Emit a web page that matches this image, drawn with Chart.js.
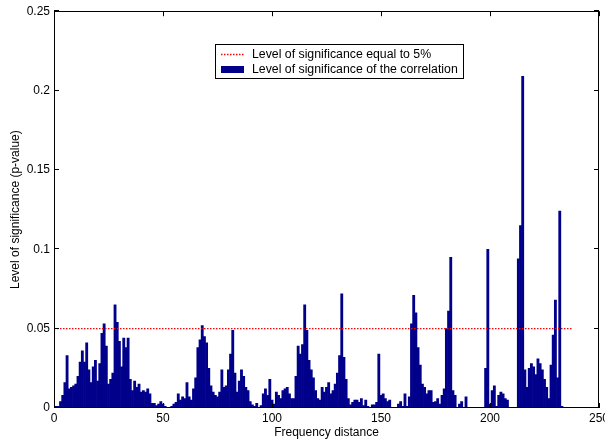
<!DOCTYPE html>
<html lang="en">
<head>
  <meta charset="UTF-8" />
  <title>Level of significance vs frequency distance</title>
  <script src="https://cdn.jsdelivr.net/npm/chart.js"></script>
  <style>
    html, body { margin: 0; padding: 0; background: #fff; }
    #wrap { width: 605px; height: 444px; position: relative; }
  </style>
</head>
<body>
<div id="wrap"><canvas id="grafico"></canvas></div>

<script>
  // p-value for frequency distance 1, 2, 3 ... (index + firstDistance)
  const firstDistance = 1;
  const pValues = [
    0.001, 0.001, 0.004, 0.008, 0.016, 0.033, 0.012, 0.013, 0.014, 0.015,
    0.020, 0.029, 0.036, 0.029, 0.041, 0.024, 0.016, 0.026, 0.030, 0.017,
    0.028, 0.047, 0.053, 0.039, 0.015, 0.018, 0.022, 0.065, 0.054, 0.042,
    0.026, 0.044, 0.038, 0.044, 0.018, 0.011, 0.017, 0.013, 0.015, 0.010,
    0.011, 0.010, 0.012, 0.009, 0.003, 0.003, 0.0015, 0.0025, 0.004, 0.0025,
    0.001, 0.0003, 0, 0.001, 0.0025, 0.0035, 0.009, 0.005, 0.007, 0.006,
    0.016, 0.007, 0.005, 0.012, 0.019, 0.038, 0.043, 0.052, 0.045, 0.041,
    0.025, 0.014, 0.010, 0.008, 0.007, 0.010, 0.024, 0.013, 0.014, 0.024,
    0.034, 0.049, 0.022, 0.010, 0.017, 0.024, 0.020, 0.013, 0.011, 0.004,
    0.002, 0.001, 0.003, 0.0005, 0.0015, 0.009, 0.012, 0.008, 0.018, 0.005,
    0.0025, 0.010, 0.008, 0.006, 0.011, 0.012, 0.013, 0.009, 0.006, 0.006,
    0.020, 0.039, 0.034, 0.040, 0.065, 0.049, 0.030, 0.024, 0.019, 0.011,
    0.006, 0.005, 0.013, 0.010, 0.013, 0.016, 0.009, 0.011, 0.015, 0.022,
    0.033, 0.072, 0.032, 0.018, 0.006, 0.002, 0.0035, 0.005, 0.005, 0.0035,
    0.006, 0.0015, 0.005, 0.001, 0, 0.002, 0.002, 0.0035, 0.034, 0.008,
    0.009, 0.006, 0.004, 0.005, 0, 0, 0, 0.0025, 0.004, 0.001,
    0.009, 0.001, 0.007, 0.053, 0.071, 0.060, 0.038, 0.027, 0.015, 0.013,
    0.009, 0.011, 0.011, 0.0035, 0.004, 0.006, 0.0025, 0.008, 0.012, 0.050,
    0.061, 0.095, 0.011, 0.008, 0.0003, 0.0025, 0.004, 0.0003, 0.007, 0,
    0, 0, 0, 0, 0, 0, 0, 0.025, 0.100, 0.0025,
    0.011, 0.014, 0.001, 0.008, 0.010, 0.009, 0.006, 0.005, 0, 0,
    0, 0, 0.094, 0.115, 0.209, 0.024, 0.013, 0.025, 0.028, 0.026,
    0.021, 0.031, 0.028, 0.024, 0.018, 0.013, 0.006, 0.027, 0.046, 0.068,
    0.019, 0.124, 0.001, 0.0005, 0.0005, 0.0005, 0.0003
  ];

  const significance = 0.05;
  const thresholdSpan = [0, 238];

  const xTicks = [0, 50, 100, 150, 200, 250];
  const yTicks = [0, 0.05, 0.1, 0.15, 0.2, 0.25];
  const yTickLabels = ['0', '0.05', '0.1', '0.15', '0.2', '0.25'];

  const fonte = 'Liberation Sans, Arial, Helvetica, sans-serif';

  // caixa com ticks para dentro, estilo matlab
  const moldura = {
    id: 'moldura',
    afterDatasetsDraw(chart) {
      const { ctx, chartArea: a, scales: { x, y } } = chart;
      ctx.save();
      ctx.strokeStyle = '#000';
      ctx.lineWidth = 1;
      ctx.strokeRect(Math.round(a.left) + 0.5, Math.round(a.top) + 0.5,
        Math.round(a.width) - 1, Math.round(a.height) - 1);
      ctx.beginPath();
      xTicks.forEach(v => {
        const px = Math.round(x.getPixelForValue(v)) + 0.5;
        ctx.moveTo(px, a.bottom); ctx.lineTo(px, a.bottom - 5);
        ctx.moveTo(px, a.top); ctx.lineTo(px, a.top + 5);
      });
      yTicks.forEach(v => {
        const py = Math.round(y.getPixelForValue(v)) - 0.5;
        ctx.moveTo(a.left, py); ctx.lineTo(a.left + 5, py);
        ctx.moveTo(a.right, py); ctx.lineTo(a.right - 5, py);
      });
      ctx.stroke();
      ctx.restore();
    }
  };

  // legenda em caixa dentro do grafico
  const legendaCaixa = {
    id: 'legendaCaixa',
    afterDraw(chart) {
      const ctx = chart.ctx;
      const ds = chart.data.datasets;
      ctx.save();
      ctx.fillStyle = '#fff';
      ctx.fillRect(215, 44, 248, 34);
      ctx.strokeStyle = '#000';
      ctx.lineWidth = 1;
      ctx.strokeRect(215.5, 44.5, 248, 34);

      ctx.strokeStyle = ds[0].borderColor;
      ctx.setLineDash(ds[0].borderDash);
      ctx.lineWidth = ds[0].borderWidth;
      ctx.beginPath();
      ctx.moveTo(221, 54.5); ctx.lineTo(244, 54.5);
      ctx.stroke();
      ctx.setLineDash([]);

      ctx.fillStyle = ds[1].backgroundColor;
      ctx.fillRect(221, 66, 23, 7);

      ctx.fillStyle = '#000';
      ctx.font = '12.3px ' + fonte;
      ctx.textBaseline = 'middle';
      ctx.fillText(ds[0].label, 252, 55);
      ctx.fillText(ds[1].label, 252, 70);
      ctx.restore();
    }
  };

  const barras = pValues.map((v, i) => ({ x: i + firstDistance, y: v }));
  const limiar = thresholdSpan.map(d => ({ x: d, y: significance }));

  new Chart(document.getElementById('grafico').getContext('2d'), {
    type: 'bar',
    data: {
      datasets: [
        {
          type: 'line',
          label: 'Level of significance equal to 5%',
          data: limiar,
          borderColor: '#ff0000',
          borderWidth: 1.3,
          borderDash: [1.5, 1.5],
          pointRadius: 0,
          fill: false,
          order: 0
        },
        {
          type: 'bar',
          label: 'Level of significance of the correlation',
          data: barras,
          backgroundColor: '#00008b',
          borderWidth: 0,
          barPercentage: 1,
          categoryPercentage: 1,
          order: 1
        }
      ]
    },
    options: {
      responsive: true,
      maintainAspectRatio: false,
      animation: false,
      layout: { padding: { top: 11, right: 6, left: 0, bottom: 0 } },
      plugins: {
        legend: { display: false },
        tooltip: { enabled: false }
      },
      scales: {
        x: {
          type: 'linear',
          min: 0,
          max: 250,
          offset: false,
          grid: { display: false, drawTicks: false, offset: false },
          border: { display: false },
          afterBuildTicks: s => { s.ticks = xTicks.map(v => ({ value: v })); },
          afterFit: s => { s.height = 36; s.paddingLeft = 0; s.paddingRight = 0; },
          ticks: { color: '#000', font: { family: fonte, size: 12 }, padding: 3, maxRotation: 0 },
          title: {
            display: true,
            text: 'Frequency distance',
            color: '#000',
            font: { family: fonte, size: 12 },
            padding: { top: 0, bottom: 4 }
          }
        },
        y: {
          min: 0,
          max: 0.25,
          grid: { display: false, drawTicks: false },
          border: { display: false },
          afterBuildTicks: s => { s.ticks = yTicks.map(v => ({ value: v })); },
          afterFit: s => { s.width = 54; },
          ticks: {
            color: '#000',
            font: { family: fonte, size: 12 },
            padding: 4,
            callback: (v, i) => yTickLabels[i]
          },
          title: {
            display: true,
            text: 'Level of significance (p-value)',
            color: '#000',
            font: { family: fonte, size: 12 },
            padding: { top: 8, bottom: 0 }
          }
        }
      }
    },
    plugins: [moldura, legendaCaixa]
  });
</script>
</body>
</html>
